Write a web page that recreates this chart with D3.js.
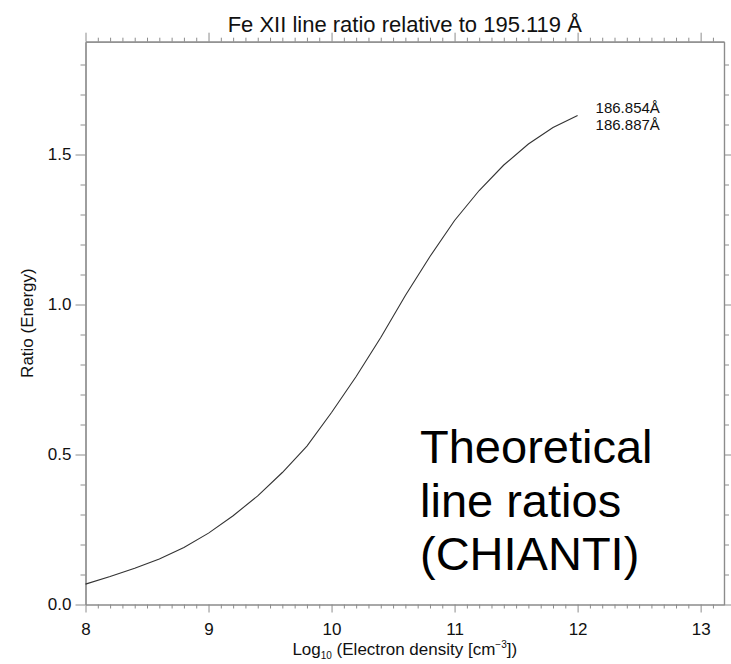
<!DOCTYPE html>
<html>
<head>
<meta charset="utf-8">
<script src="https://cdn.jsdelivr.net/npm/d3@7"></script>
<style>
  html, body { margin: 0; padding: 0; background: #fff; }
  svg { display: block; font-family: "Liberation Sans", Arial, Helvetica, sans-serif; }
</style>
</head>
<body>
<svg id="chart" width="731" height="664"></svg>
<script>
// ---- data ----
const logDensity = [8.0, 8.2, 8.4, 8.6, 8.8, 9.0, 9.2, 9.4, 9.6, 9.8, 10.0, 10.2, 10.4, 10.6, 10.8, 11.0, 11.2, 11.4, 11.6, 11.8, 12.0];
const ratioValues = [0.068, 0.093, 0.121, 0.152, 0.190, 0.238, 0.296, 0.362, 0.440, 0.528, 0.640, 0.760, 0.890, 1.030, 1.160, 1.280, 1.380, 1.465, 1.535, 1.590, 1.630];
const xMajorTicks = [8, 9, 10, 11, 12, 13];
const yMajorTicks = [0.0, 0.5, 1.0, 1.5];
const lineLabels = ["186.854Å", "186.887Å"];
const titleText = "Fe XII line ratio relative to 195.119 Å";
const yTitle = "Ratio (Energy)";
const noteLines = ["Theoretical", "line ratios", "(CHIANTI)"];

// ---- layout ----
const svg = d3.select("#chart");
const L = 85.5, R = 724, T = 41.7, B = 604.5;
const x = d3.scaleLinear().domain([8, 13.19]).range([L, R]);
const y = d3.scaleLinear().domain([0, 1.876]).range([B, T]);
const axisColor = "#8c8c8c";
const textColor = "#111";

const xMinor = d3.range(80, 132).map(v => v / 10).filter(v => v <= 13.19 && !xMajorTicks.includes(v));
const yMinor = d3.range(0, 19).map(v => v / 10).filter(v => v <= 1.876 && !yMajorTicks.some(m => Math.abs(m - v) < 1e-9));

function styleAxis(g) {
  g.selectAll("path.domain").attr("stroke", axisColor).attr("stroke-width", 1.2);
  g.selectAll(".tick line").attr("stroke", axisColor).attr("stroke-width", 1);
  g.selectAll("text").attr("fill", textColor).attr("font-family", "Liberation Sans, Arial, sans-serif");
}

// bottom
svg.append("g").attr("transform", `translate(0,${B})`)
  .call(d3.axisBottom(x).tickValues(xMinor).tickSize(4).tickSizeOuter(0).tickFormat(""))
  .call(styleAxis);
svg.append("g").attr("transform", `translate(0,${B})`)
  .call(d3.axisBottom(x).tickValues(xMajorTicks).tickSize(8).tickSizeOuter(0).tickPadding(10).tickFormat(d3.format("d")))
  .call(styleAxis)
  .call(g => g.selectAll("text").attr("font-size", 17));
// top
svg.append("g").attr("transform", `translate(0,${T})`)
  .call(d3.axisTop(x).tickValues(xMinor).tickSize(4).tickSizeOuter(0).tickFormat(""))
  .call(styleAxis);
svg.append("g").attr("transform", `translate(0,${T})`)
  .call(d3.axisTop(x).tickValues(xMajorTicks).tickSize(9).tickSizeOuter(0).tickFormat(""))
  .call(styleAxis);
// left
svg.append("g").attr("transform", `translate(${L},0)`)
  .call(d3.axisLeft(y).tickValues(yMinor).tickSize(5).tickSizeOuter(0).tickFormat(""))
  .call(styleAxis);
svg.append("g").attr("transform", `translate(${L},0)`)
  .call(d3.axisLeft(y).tickValues(yMajorTicks).tickSize(10).tickSizeOuter(0).tickPadding(4).tickFormat(d3.format(".1f")))
  .call(styleAxis)
  .call(g => g.selectAll("text").attr("font-size", 17));
// right
svg.append("g").attr("transform", `translate(${R},0)`)
  .call(d3.axisRight(y).tickValues(yMinor).tickSize(5).tickSizeOuter(0).tickFormat(""))
  .call(styleAxis);
svg.append("g").attr("transform", `translate(${R},0)`)
  .call(d3.axisRight(y).tickValues(yMajorTicks).tickSize(10).tickSizeOuter(0).tickFormat(""))
  .call(styleAxis);

// curve
const pts = logDensity.map((d, i) => [d, ratioValues[i]]);
svg.append("path")
  .datum(pts)
  .attr("fill", "none")
  .attr("stroke", "#333")
  .attr("stroke-width", 1.1)
  .attr("d", d3.line().x(d => x(d[0])).y(d => y(d[1])));

// line labels
const last = pts[pts.length - 1];
svg.selectAll("text.lbl").data(lineLabels).enter().append("text")
  .attr("class", "lbl")
  .attr("x", x(last[0]) + 18)
  .attr("y", (d, i) => 113 + i * 17)
  .attr("font-size", 15)
  .attr("fill", textColor)
  .text(d => d);

// title
svg.append("text")
  .attr("x", (L + R) / 2).attr("y", 31.5)
  .attr("text-anchor", "middle")
  .attr("font-size", 22)
  .attr("fill", textColor)
  .text(titleText);

// x title
const xt = svg.append("text")
  .attr("x", (L + R) / 2).attr("y", 655)
  .attr("text-anchor", "middle")
  .attr("font-size", 17)
  .attr("fill", textColor);
xt.append("tspan").text("Log");
xt.append("tspan").attr("font-size", 10).attr("dy", 4).text("10");
xt.append("tspan").attr("dy", -4).text(" (Electron density [cm");
xt.append("tspan").attr("font-size", 10).attr("dy", -7).text("−3");
xt.append("tspan").attr("dy", 7).text("])");

// y title
svg.append("text")
  .attr("transform", `translate(33,${(T + B) / 2}) rotate(-90)`)
  .attr("text-anchor", "middle")
  .attr("font-size", 17)
  .attr("fill", textColor)
  .text(yTitle);

// annotation
svg.selectAll("text.note").data(noteLines).enter().append("text")
  .attr("class", "note")
  .attr("x", 420)
  .attr("y", (d, i) => 463 + i * 53.5)
  .attr("font-size", 47)
  .attr("fill", "#000")
  .text(d => d);
</script>
</body>
</html>
